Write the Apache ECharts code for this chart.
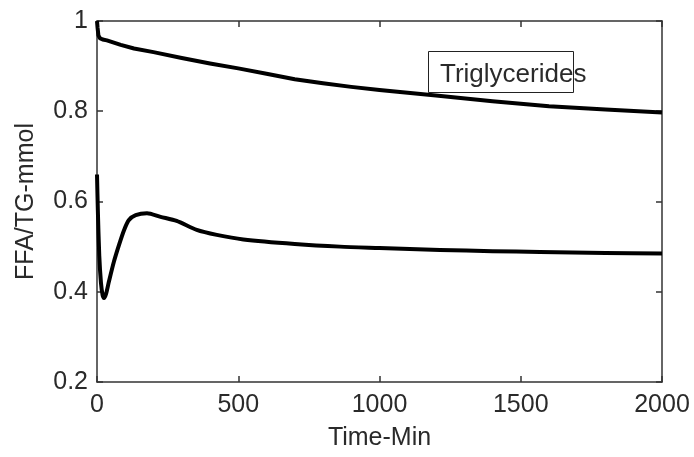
<!DOCTYPE html>
<html>
<head>
<meta charset="utf-8">
<script src="https://cdn.jsdelivr.net/npm/echarts@6/dist/echarts.min.js"></script>
<style>html,body{margin:0;padding:0;background:#fff}#c{width:694px;height:457px}</style>
</head>
<body>
<div id="c"></div>
<script>
// Time (min) and values for the triglycerides curve
var tgTime = [0, 2, 5, 10, 20, 35, 84, 131, 200, 300, 400, 500, 600, 700, 800, 900, 1000, 1200, 1400, 1600, 1800, 2000];
var tgValues = [1.0, 0.985, 0.968, 0.962, 0.959, 0.957, 0.947, 0.939, 0.931, 0.918, 0.906, 0.895, 0.883, 0.871, 0.862, 0.854, 0.847, 0.835, 0.822, 0.811, 0.804, 0.797];
// Time (min) and values for the FFA curve
var ffaTime = [0, 3, 8, 14, 20, 25, 32, 42, 60, 78, 96, 113, 137, 177, 225, 282, 353, 424, 518, 700, 860, 1000, 1214, 1400, 1568, 1800, 2000];
var ffaValues = [0.66, 0.58, 0.48, 0.42, 0.392, 0.386, 0.395, 0.422, 0.467, 0.504, 0.537, 0.559, 0.570, 0.574, 0.566, 0.557, 0.537, 0.526, 0.516, 0.506, 0.500, 0.497, 0.4925, 0.490, 0.488, 0.486, 0.485];
var xTicks = [0, 500, 1000, 1500, 2000];
var yTicks = [0.2, 0.4, 0.6, 0.8, 1];
var legendLabel = 'Triglycerides';

function pairs(xs, ys) { return xs.map(function (x, i) { return [x, ys[i]]; }); }

var FONT = '"Liberation Sans", Arial, sans-serif';
var axisColor = '#333';
var textColor = '#2a2a2a';
var chart = echarts.init(document.getElementById('c'), null, { renderer: 'canvas' });
var common = {
  axisLine: { show: true, onZero: false, lineStyle: { color: axisColor, width: 1.5 } },
  axisTick: { show: true, inside: true, length: 6, lineStyle: { color: axisColor, width: 1.5 } },
  splitLine: { show: false }
};
chart.setOption({
  animation: false,
  backgroundColor: '#fff',
  grid: { left: 97, right: 32, top: 21, bottom: 75, containLabel: false },
  legend: {
    data: [legendLabel],
    icon: 'none',
    itemWidth: 0,
    padding: 0,
    left: 435,
    top: 62,
    textStyle: { fontFamily: FONT, fontSize: 26, color: textColor }
  },
  graphic: [{
    type: 'rect',
    shape: { x: 428.5, y: 51.5, width: 145, height: 41 },
    style: { fill: 'none', stroke: '#222', lineWidth: 1 },
    z: 50
  }],
  xAxis: [Object.assign({
    type: 'value', min: xTicks[0], max: xTicks[xTicks.length - 1], interval: xTicks[1] - xTicks[0],
    name: 'Time-Min', nameLocation: 'middle', nameGap: 44,
    nameTextStyle: { fontFamily: FONT, fontSize: 25, color: textColor },
    axisLabel: { fontFamily: FONT, fontSize: 25, color: textColor, margin: 11,
      formatter: function (v) { return String(v); } }
  }, common), Object.assign({
    type: 'value', position: 'top', min: xTicks[0], max: xTicks[xTicks.length - 1], interval: xTicks[1] - xTicks[0],
    axisLabel: { show: false }
  }, common)],
  yAxis: [Object.assign({
    type: 'value', min: yTicks[0], max: yTicks[yTicks.length - 1], interval: 0.2,
    name: 'FFA/TG-mmol', nameLocation: 'middle', nameGap: 58,
    nameTextStyle: { fontFamily: FONT, fontSize: 25, color: textColor },
    axisLabel: { fontFamily: FONT, fontSize: 25, color: textColor, margin: 9,
      formatter: function (v) { return String(Math.round(v * 10) / 10); } }
  }, common), Object.assign({
    type: 'value', position: 'right', min: yTicks[0], max: yTicks[yTicks.length - 1], interval: 0.2,
    axisLabel: { show: false }
  }, common)],
  series: [{
    name: legendLabel,
    type: 'line',
    data: pairs(tgTime, tgValues),
    showSymbol: false, symbol: 'none',
    smooth: false,
    lineStyle: { color: '#000', width: 4, join: 'round' },
    itemStyle: { color: '#000' }
  }, {
    name: 'FFA',
    type: 'line',
    data: pairs(ffaTime, ffaValues),
    showSymbol: false, symbol: 'none',
    smooth: 0.25,
    lineStyle: { color: '#000', width: 4, join: 'round' },
    itemStyle: { color: '#000' }
  }]
});
</script>
</body>
</html>
